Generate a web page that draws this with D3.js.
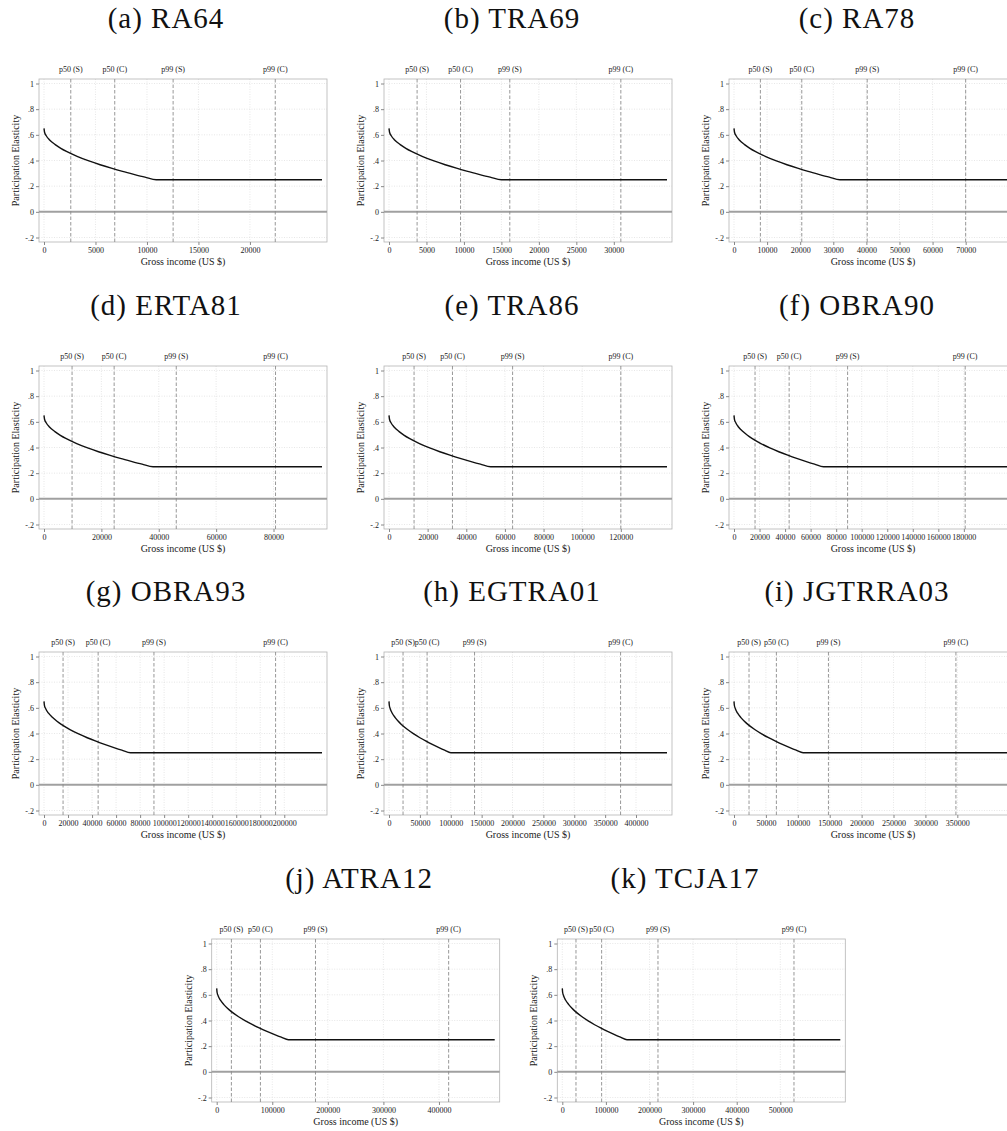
<!DOCTYPE html>
<html>
<head>
<meta charset="utf-8">
<script src="https://cdn.jsdelivr.net/npm/d3@7"></script>
<style>
  body { margin: 0; background: #fff; }
  svg text { font-family: "Liberation Serif", "DejaVu Serif", serif; }
</style>
</head>
<body>
<svg id="fig"></svg>
<script>
// one panel per tax reform
const titles = ["(a) RA64", "(b) TRA69", "(c) RA78", "(d) ERTA81", "(e) TRA86", "(f) OBRA90",
                "(g) OBRA93", "(h) EGTRA01", "(i) JGTRRA03", "(j) ATRA12", "(k) TCJA17"];

// income where the elasticity reaches its floor, and last income plotted
const kinkIncome = [10900, 15000, 32000, 38000, 52600, 70100, 72000, 100100, 108300, 129100, 148300];
const maxIncome  = [27000, 37100, 84000, 96900, 143900, 217700, 231400, 450200, 435700, 500300, 637600];

// percentile markers (S = single, C = couple)
const p50S = [2600, 3750, 7970, 9780, 12970, 16480, 15860, 22730, 23540, 26430, 31350];
const p50C = [6870, 9550, 20480, 24450, 32850, 43170, 45060, 61690, 66420, 78680, 90210];
const p99S = [12540, 16120, 40250, 46100, 63980, 88960, 91520, 138530, 148010, 177780, 219420];
const p99C = [22460, 30940, 70000, 80700, 120000, 181050, 192760, 375000, 347800, 417420, 531350];
const markerNames = ["p50 (S)", "p50 (C)", "p99 (S)", "p99 (C)"];

// elasticity profile (same shape in every panel, as share of kink income)
const kinkShare  = [0, 0.005, 0.02, 0.05, 0.1, 0.15, 0.2, 0.3, 0.4, 0.5, 0.6, 0.7, 0.8, 0.9, 1];
const elasticity = [0.65, 0.62, 0.593, 0.56, 0.524, 0.495, 0.471, 0.431, 0.397, 0.367, 0.34, 0.315, 0.292, 0.27, 0.25];
const floorElasticity = 0.25;

// axis ticks
const xTicks = [
  [0, 5000, 10000, 15000, 20000],
  [0, 5000, 10000, 15000, 20000, 25000, 30000],
  [0, 10000, 20000, 30000, 40000, 50000, 60000, 70000],
  [0, 20000, 40000, 60000, 80000],
  [0, 20000, 40000, 60000, 80000, 100000, 120000],
  [0, 20000, 40000, 60000, 80000, 100000, 120000, 140000, 160000, 180000],
  [0, 20000, 40000, 60000, 80000, 100000, 120000, 140000, 160000, 180000, 200000],
  [0, 50000, 100000, 150000, 200000, 250000, 300000, 350000, 400000],
  [0, 50000, 100000, 150000, 200000, 250000, 300000, 350000],
  [0, 100000, 200000, 300000, 400000],
  [0, 100000, 200000, 300000, 400000, 500000]
];
const yTicks = [-0.2, 0, 0.2, 0.4, 0.6, 0.8, 1];
const yTickLabels = ["-.2", "0", ".2", ".4", ".6", ".8", "1"];

const width = 1007, height = 1131;
const serif = "'Liberation Serif', 'DejaVu Serif', serif";
const svg = d3.select("#fig").attr("width", width).attr("height", height);

// frame geometry inside each panel
const L = 39, T = 79, W = 288, H = 163;
const rowY = [0, 287, 573, 860];
const colX = [0, 345, 690];
const lastRowX = [172.7, 518.3];
const titleX = [166, 512, 857, 166, 512, 857, 166, 512, 857, 359, 685];

titles.forEach((title, i) => {
  const row = Math.floor(i / 3);
  const ox = i < 9 ? colX[i % 3] : lastRowX[i - 9];
  const oy = rowY[row];

  svg.append("text")
    .attr("x", titleX[i]).attr("y", oy + 28)
    .attr("text-anchor", "middle")
    .attr("font-family", serif)
    .style("font-size", "29px")
    .style("letter-spacing", "1px")
    .attr("fill", "#111")
    .text(title);

  const g = svg.append("g").attr("transform", `translate(${ox},${oy})`)
    .attr("font-family", serif);

  const x = d3.scaleLinear().domain([0, maxIncome[i]]).range([L + 5, L + W - 5]);
  const y = d3.scaleLinear().domain([-0.2, 1]).range([T + H - 4.5, T + 4.5]);

  // grid
  g.selectAll(".gy").data(yTicks.filter(d => d !== 0)).join("line")
    .attr("x1", L).attr("x2", L + W)
    .attr("y1", d => y(d)).attr("y2", d => y(d))
    .attr("stroke", "#dcdcdc").attr("stroke-width", 0.7).attr("stroke-dasharray", "1,1.5");
  g.selectAll(".gx").data(xTicks[i]).join("line")
    .attr("x1", d => x(d)).attr("x2", d => x(d))
    .attr("y1", T).attr("y2", T + H)
    .attr("stroke", "#dcdcdc").attr("stroke-width", 0.7).attr("stroke-dasharray", "1,1.5");

  // frame
  g.append("rect")
    .attr("x", L).attr("y", T).attr("width", W).attr("height", H)
    .attr("fill", "none").attr("stroke", "#b4b4b4").attr("stroke-width", 0.8);

  // zero line
  g.append("line")
    .attr("x1", L).attr("x2", L + W)
    .attr("y1", y(0)).attr("y2", y(0))
    .attr("stroke", "#a0a0a0").attr("stroke-width", 2);

  // percentile markers
  const markers = [p50S[i], p50C[i], p99S[i], p99C[i]];
  g.selectAll(".mk").data(markers).join("line")
    .attr("x1", d => x(d)).attr("x2", d => x(d))
    .attr("y1", T).attr("y2", T + H)
    .attr("stroke", "#8c8c8c").attr("stroke-width", 0.9).attr("stroke-dasharray", "3.5,2");
  g.selectAll(".mkl").data(markers).join("text")
    .attr("x", d => x(d)).attr("y", T - 7)
    .attr("text-anchor", "middle")
    .attr("font-family", serif)
    .style("font-size", "8px").attr("fill", "#222")
    .text((d, k) => markerNames[k]);

  // elasticity curve
  const pts = kinkShare.map((s, k) => [s * kinkIncome[i], elasticity[k]]);
  pts.push([maxIncome[i], floorElasticity]);
  const line = d3.line().x(d => x(d[0])).y(d => y(d[1])).curve(d3.curveMonotoneX);
  g.append("path")
    .attr("d", line(pts))
    .attr("fill", "none").attr("stroke", "#111").attr("stroke-width", 1.4);

  // axes
  const yAxis = g.append("g").attr("transform", `translate(${L},0)`)
    .call(d3.axisLeft(y).tickValues(yTicks).tickFormat((d, k) => yTickLabels[k]).tickSize(3).tickPadding(2));
  const xAxis = g.append("g").attr("transform", `translate(0,${T + H})`)
    .call(d3.axisBottom(x).tickValues(xTicks[i]).tickFormat(d3.format("d")).tickSize(3).tickPadding(2));
  [yAxis, xAxis].forEach(a => {
    a.attr("font-family", serif).attr("font-size", 8);
    a.select(".domain").remove();
    a.selectAll("line").attr("stroke", "#888");
    a.selectAll("text").attr("fill", "#222").attr("font-family", serif);
  });

  g.append("text")
    .attr("x", (x.range()[0] + x.range()[1]) / 2).attr("y", T + H + 23)
    .attr("text-anchor", "middle")
    .attr("font-family", serif)
    .style("font-size", "10px").attr("fill", "#222")
    .text("Gross income (US $)");

  g.append("text")
    .attr("transform", `translate(${L - 20},${T + H / 2}) rotate(-90)`)
    .attr("text-anchor", "middle")
    .attr("font-family", serif)
    .style("font-size", "10px").attr("fill", "#222")
    .text("Participation Elasticity");
});
</script>
</body>
</html>
